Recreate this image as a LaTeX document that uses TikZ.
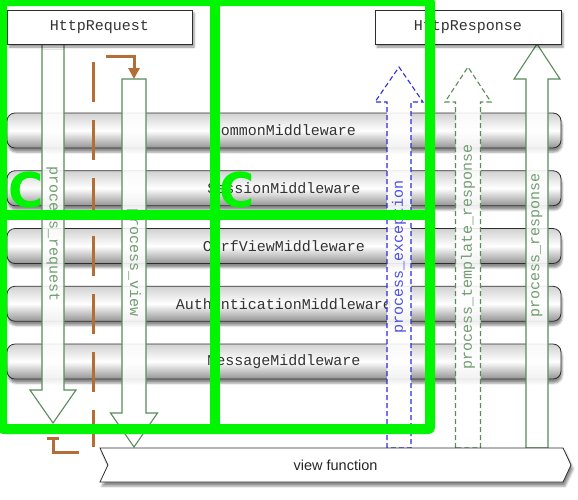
\documentclass[tikz,border=0pt]{standalone}
\usepackage{fontspec}
\setmainfont{Liberation Sans}
\setmonofont{Liberation Mono}
\newfontfamily\markfont{DejaVu Sans}
\usepackage{tikz}
\usetikzlibrary{positioning}
\usetikzlibrary{shapes.symbols}
\usetikzlibrary{arrows.meta}
\usetikzlibrary{shadows.blur}
\definecolor{markgreen}{RGB}{0,245,0}
\definecolor{flowgreen}{RGB}{88,140,88}
\definecolor{flowblue}{RGB}{45,45,225}
\definecolor{hookbrown}{RGB}{178,110,52}
\definecolor{framegray}{RGB}{45,45,45}

% block arrow: style, x, tail y, head base y, tip y, half shaft, half head
\newcommand{\blockarrow}[7]{%
  \path[#1] (#2-#6,#3) -- (#2-#6,#4) -- (#2-#7,#4) -- (#2,#5)
        -- (#2+#7,#4) -- (#2+#6,#4) -- (#2+#6,#3) -- cycle;}

\begin{document}
\begin{tikzpicture}[
            x = 1pt, y = -1pt, % pixel grid, y goes down
            node distance = 57.75pt, % distance between middleware bars
            semithick % line style
        ]

        \tikzstyle{iobox}=[
            draw = framegray,
            thick,
            fill = white,
            minimum height = 34pt,
            text = black!80,
            font = \ttfamily\fontsize{15}{15}\selectfont,
            blur shadow = {shadow xshift=2pt, shadow yshift=-3pt, shadow opacity=45}
        ]
        \tikzstyle{mwbar}=[
            draw = framegray,
            thick,
            rounded corners = 8pt,
            minimum width = 554pt,
            minimum height = 35pt,
            top color = black!18, bottom color = black!42, middle color = white,
            text = black!80,
            font = \ttfamily\fontsize{15}{15}\selectfont,
            blur shadow = {shadow xshift=1pt, shadow yshift=-4pt, shadow opacity=45}
        ]
        \tikzstyle{bigarrow}=[
            draw = flowgreen,
            line width = 1.1pt,
            fill = white,
            fill opacity = 0.88
        ]
        \tikzstyle{flowlabel}=[
            text = flowgreen!85,
            inner sep = 0pt,
            font = \ttfamily\fontsize{15}{15}\selectfont
        ]
        \tikzstyle{hook}=[
            draw = hookbrown,
            line width = 3pt
        ]
        \tikzstyle{markline}=[
            draw = markgreen,
            line width = 10pt,
            rounded corners = 2pt
        ]
        \tikzstyle{markc}=[
            text = markgreen,
            inner sep = 0pt,
            font = \markfont\bfseries\fontsize{48}{48}\selectfont
        ]

        \useasboundingbox (0,0) rectangle (578,499);

	% middleware stack
        \node[mwbar] (common) at (284,130.5) {CommonMiddleware};
        \node[mwbar] (session) [below of=common] {SessionMiddleware};
        \node[mwbar] (csrf) [below of=session] {CsrfViewMiddleware};
        \node[mwbar] (auth) [below of=csrf] {AuthenticationMiddleware};
        \node[mwbar] (message) [below of=auth] {MessageMiddleware};

        % request side
        \blockarrow{bigarrow}{53}{44}{390}{423}{11}{23}
        \blockarrow{bigarrow}{134}{79}{413}{447}{12}{23.5}
        \node[flowlabel, rotate=-90] (reqlabel) at (53,234) {process\_request};
        \node[flowlabel, rotate=-90] (viewlabel) at (134,263) {process\_view};

        % response side
        \blockarrow{bigarrow, draw=flowblue, dash pattern=on 5pt off 3pt}{399}{448}{102}{67}{12}{24}
        \blockarrow{bigarrow, dash pattern=on 5pt off 3pt}{468}{448}{102}{67}{12.5}{23}
        \blockarrow{bigarrow}{537}{448}{79}{44}{11}{23}
        \node[flowlabel, text=flowblue!85, rotate=90] (exclabel) at (399,257) {process\_exception};
        \node[flowlabel, rotate=90] (tpllabel) at (468,257) {process\_template\_response};
        \node[flowlabel, rotate=90] (resplabel) at (537,245) {process\_response};

        % short cut
        \coordinate (hookstart) at (106,56);
        \coordinate (viewtop) at (134,79);
        \coordinate (dashtop) at (93,62);
        \coordinate (dashend) at (93,447);
        \coordinate (backstart) at (79,452);
        \coordinate (reqtip) at (53,437);
        \draw[hook, -{Triangle[width=11pt,length=11pt]}] (hookstart) -| (viewtop);
        \draw[hook, dash pattern=on 40pt off 18pt] (dashtop) -- (dashend);
        \draw[hook, -{Bar[width=12pt]}] (backstart) -| (reqtip);

        % ends
        \node[iobox, minimum width=185pt] (request) at (99.5,27) {HttpRequest};
        \node[iobox, minimum width=186pt] (response) at (468,27) {HttpResponse};
        \node[signal, signal to=east, signal from=west, signal pointer angle=130,
              draw=framegray, thick, fill=white, text=black!85,
              minimum width=471pt, minimum height=34pt,
              font=\fontsize{14.5}{15}\selectfont,
              blur shadow={shadow xshift=2pt, shadow yshift=-4pt, shadow opacity=45}]
              (view) at (335.5,465) {view function};

        % marks on top
        \draw[markline] (2,1) rectangle (430,429);
        \draw[markline] (2,215) -- (430,215);
        \draw[markline] (215,1) -- (215,429);
        \node[markc] (cleft) at (26,190) {C};
        \node[markc] (cright) at (237,190) {C};

\end{tikzpicture}
\end{document}
